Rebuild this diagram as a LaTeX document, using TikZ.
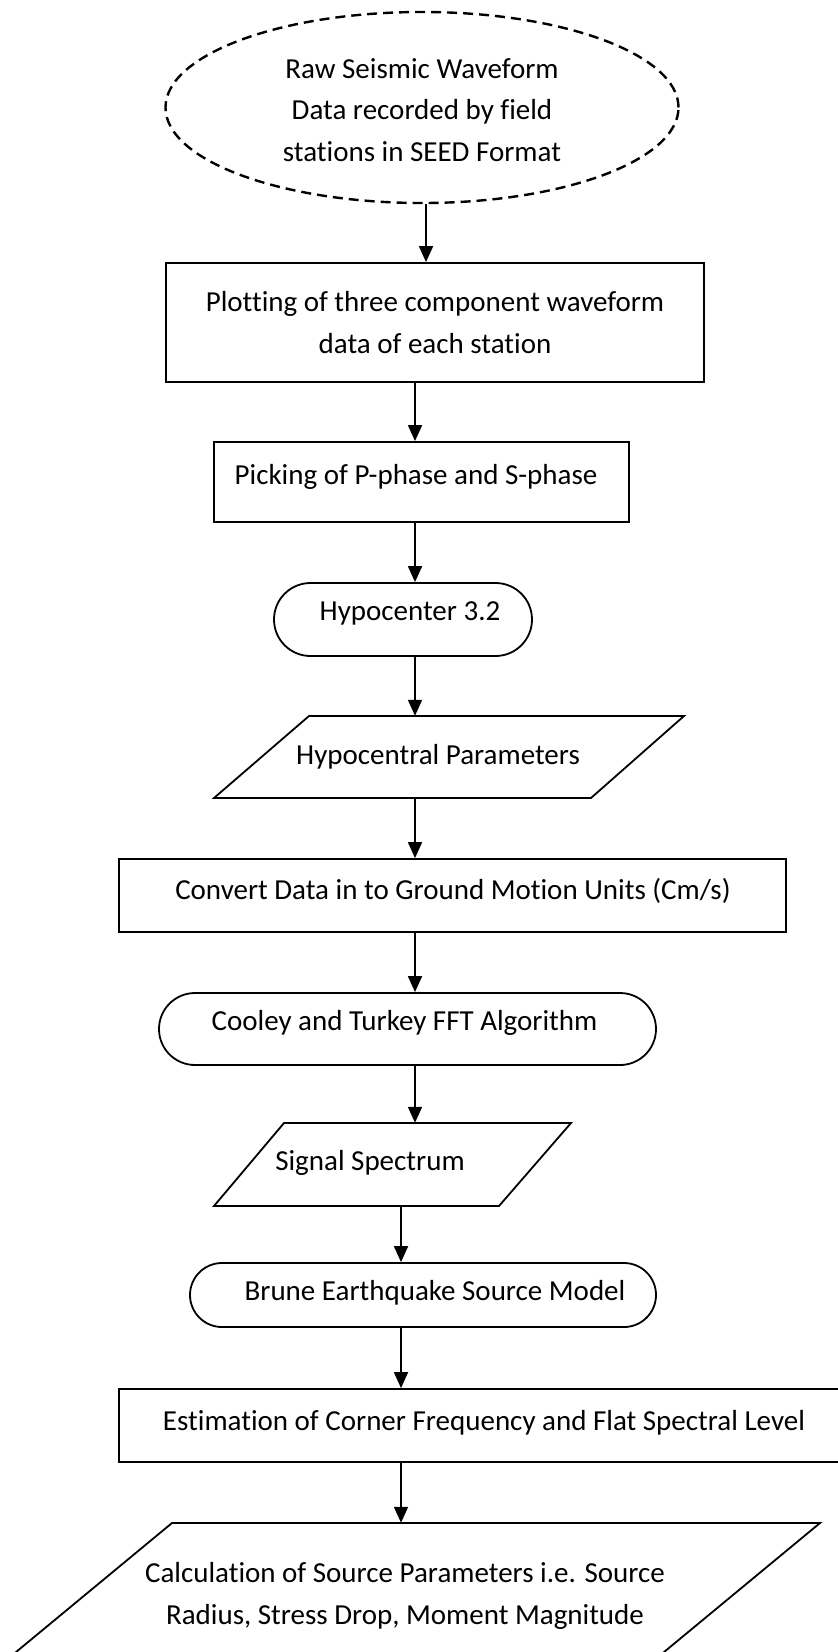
\documentclass[tikz,border=0pt]{standalone}
\usepackage{fontspec}
\setmainfont{Carlito}[Ligatures=NoCommon]
\usetikzlibrary{shapes.geometric,shapes.misc,arrows.meta}
\begin{document}
\begin{tikzpicture}[x=1pt,y=-1pt,
  box/.style={draw, line width=1.8pt, inner sep=0pt},
  term/.style={rounded rectangle, draw, line width=1.8pt, inner sep=0pt},
  ghost/.style={inner sep=0pt, draw=none},
  pline/.style={line width=1.8pt, line join=miter},
  arr/.style={line width=1.8pt, -{Triangle[length=16pt,width=14pt]}},
  txt/.style={font=\fontsize{29}{41.5}\selectfont, align=center, inner sep=0pt}]
\useasboundingbox[fill=white] (0,0) rectangle (838,1652);
% columns for connectors
\coordinate (c1) at (426,0);
\coordinate (c2) at (415,0);
\coordinate (c3) at (401,0);
% shapes
\node[ellipse, draw, dash pattern=on 10pt off 6pt, line width=2.4pt, inner sep=0pt,
      minimum width=513pt, minimum height=191pt] (e) at (422,107.5) {};
\node[box, minimum width=538pt, minimum height=119pt] (r1) at (435,322.5) {};
\node[box, minimum width=415pt, minimum height=80pt] (r2) at (421.5,482) {};
\node[term, minimum width=258pt, minimum height=73pt] (h) at (403,619.5) {};
\node[ghost, minimum width=470pt, minimum height=82pt] (pa) at (449,757) {};
\draw[pline] (309,716) -- (684,716) -- (591,798) -- (214,798) -- cycle;
\node[box, minimum width=667pt, minimum height=73pt] (r3) at (452.5,895.5) {};
\node[term, minimum width=497pt, minimum height=72pt] (co) at (407.5,1029) {};
\node[ghost, minimum width=357pt, minimum height=83pt] (sg) at (392.5,1164.5) {};
\draw[pline] (284,1123) -- (571,1123) -- (499,1206) -- (214,1206) -- cycle;
\node[term, minimum width=466pt, minimum height=64pt] (br) at (423,1295) {};
\node[box, minimum width=725pt, minimum height=73pt] (es) at (481.5,1425.5) {};
\node[ghost, minimum width=650pt, minimum height=130pt] (ca) at (440,1588) {};
\draw[pline] (-42,1700) -- (172,1523) -- (820,1523) -- (606,1700);
% texts
\node[txt] (te) at (422,110) {Raw Seismic Waveform\\Data recorded by field\\stations in SEED Format};
\node[txt] (tr1) at (435,322.5) {Plotting of three component waveform\\data of each station};
\node[txt] (tr2) at (416,477) {Picking of P-phase and S-phase};
\node[txt] (th) at (410,613) {Hypocenter 3.2};
\node[txt] (tpa) at (438,757) {Hypocentral Parameters};
\node[txt] (tr3) at (453,891) {Convert Data in to Ground Motion Units (Cm/s)};
\node[txt] (tco) at (404.5,1023) {Cooley and Turkey FFT Algorithm};
\node[txt] (tsg) at (370,1163) {Signal Spectrum};
\node[txt] (tbr) at (435,1293) {Brune Earthquake Source Model};
\node[txt] (tes) at (484,1423) {Estimation of Corner Frequency and Flat Spectral Level};
\node[txt] (tca) at (405,1596) {Calculation of Source Parameters i.e. Source\\Radius, Stress Drop, Moment Magnitude};
% connectors
\draw[arr] (e.south -| c1) -- (r1.north -| c1);
\draw[arr] (r1.south -| c2) -- (r2.north -| c2);
\draw[arr] (r2.south -| c2) -- (h.north -| c2);
\draw[arr] (h.south -| c2) -- (pa.north -| c2);
\draw[arr] (pa.south -| c2) -- (r3.north -| c2);
\draw[arr] (r3.south -| c2) -- (co.north -| c2);
\draw[arr] (co.south -| c2) -- (sg.north -| c2);
\draw[arr] (sg.south -| c3) -- (br.north -| c3);
\draw[arr] (br.south -| c3) -- (es.north -| c3);
\draw[arr] (es.south -| c3) -- (ca.north -| c3);
\end{tikzpicture}
\end{document}
